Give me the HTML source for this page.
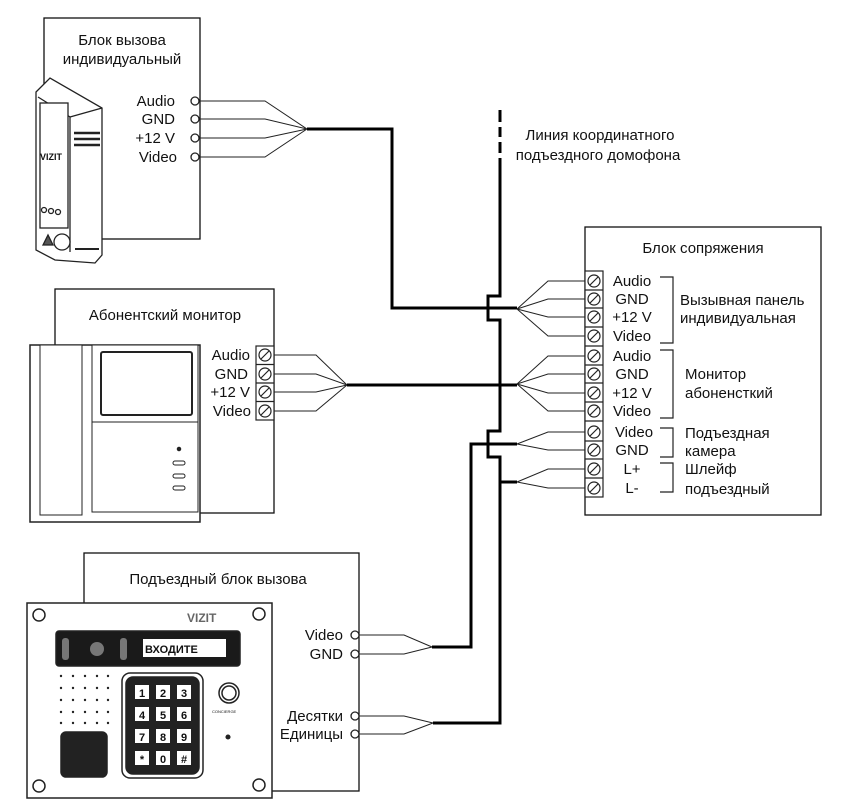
<!DOCTYPE html>
<html><head><meta charset="utf-8"><style>
html,body{margin:0;padding:0;background:#fff;}
svg{display:block;}
text{font-family:"Liberation Sans","DejaVu Sans",sans-serif;font-size:15px;fill:#111;}
</style></head><body>
<svg width="841" height="809" viewBox="0 0 841 809" xmlns="http://www.w3.org/2000/svg">
<g fill="none" stroke="#111" stroke-width="1.3">
<rect x="44" y="18" width="156" height="221" fill="#fff"/>
<rect x="55" y="289" width="219" height="224" fill="#fff"/>
<rect x="585" y="227" width="236" height="288" fill="#fff"/>
<rect x="84" y="553" width="275" height="238" fill="#fff"/>
</g>
<g stroke="#222" stroke-width="1.3" fill="#fff">
<path d="M36 92 L50 78 L102 108 L102 255 L95 263 L55 260 L36 250 Z"/>
<path d="M38 97 L70 117 L70 252" fill="none"/>
<path d="M70 117 L102 108" fill="none"/>
<rect x="40" y="103" width="28" height="125"/>
<path d="M74 133 h26 M74 139 h26 M74 145 h26" stroke-width="2.5"/>
<circle cx="44" cy="210" r="2.5"/><circle cx="51" cy="211" r="2.5"/><circle cx="58" cy="212" r="2.5"/>
<path d="M43 245 l5 -10 l5 10 z" fill="#555"/>
<circle cx="62" cy="242" r="8"/>
<path d="M75 249 h24" stroke-width="2"/>
</g>
<text x="40" y="160" style="font-size:9px;font-weight:bold">VIZIT</text>
<g stroke="#222" stroke-width="1.5" fill="#fff">
<rect x="30" y="345" width="170" height="177"/>
<rect x="40" y="345" width="42" height="170" stroke-width="1"/>
<rect x="92" y="345" width="106" height="167" stroke-width="1"/>
<rect x="101" y="352" width="91" height="63" rx="2" stroke-width="2"/>
<line x1="92" y1="422" x2="198" y2="422" stroke-width="1"/>
<circle cx="179" cy="449" r="1.5" fill="#222"/>
<rect x="173" y="461" width="12" height="4" rx="2" stroke-width="1"/>
<rect x="173" y="474" width="12" height="4" rx="2" stroke-width="1"/>
<rect x="173" y="486" width="12" height="4" rx="2" stroke-width="1"/>
</g>
<g stroke="#222" stroke-width="1.5" fill="#fff">
<rect x="27" y="603" width="245" height="195"/>
<circle cx="39" cy="615" r="6"/><circle cx="259" cy="614" r="6"/>
<circle cx="39" cy="786" r="6"/><circle cx="259" cy="785" r="6"/>
<rect x="56" y="631" width="184" height="35" rx="3" fill="#1a1a1a"/>
<rect x="143" y="639" width="83" height="18" fill="#fff" stroke="none"/>
<rect x="62" y="638" width="7" height="22" rx="3" fill="#777" stroke="none"/>
<rect x="120" y="638" width="7" height="22" rx="3" fill="#777" stroke="none"/>
<circle cx="97" cy="649" r="7" fill="#777" stroke="none"/>
<rect x="122" y="673" width="81" height="105" rx="8"/>
<rect x="126" y="677" width="73" height="97" rx="7" fill="#222"/>
<rect x="61" y="732" width="46" height="45" rx="5" fill="#222"/>
<circle cx="229" cy="693" r="10"/><circle cx="229" cy="693" r="7"/>
<circle cx="228" cy="737" r="1.8" fill="#222"/>
</g>
<g fill="#222">
<circle cx="61" cy="676" r="1.2"/><circle cx="73" cy="676" r="1.2"/><circle cx="85" cy="676" r="1.2"/><circle cx="97" cy="676" r="1.2"/><circle cx="108" cy="676" r="1.2"/>
<circle cx="61" cy="688" r="1.2"/><circle cx="73" cy="688" r="1.2"/><circle cx="85" cy="688" r="1.2"/><circle cx="97" cy="688" r="1.2"/><circle cx="108" cy="688" r="1.2"/>
<circle cx="61" cy="700" r="1.2"/><circle cx="73" cy="700" r="1.2"/><circle cx="85" cy="700" r="1.2"/><circle cx="97" cy="700" r="1.2"/><circle cx="108" cy="700" r="1.2"/>
<circle cx="61" cy="712" r="1.2"/><circle cx="73" cy="712" r="1.2"/><circle cx="85" cy="712" r="1.2"/><circle cx="97" cy="712" r="1.2"/><circle cx="108" cy="712" r="1.2"/>
<circle cx="61" cy="723" r="1.2"/><circle cx="73" cy="723" r="1.2"/><circle cx="85" cy="723" r="1.2"/><circle cx="97" cy="723" r="1.2"/><circle cx="108" cy="723" r="1.2"/>
</g>
<g fill="#fff">
<rect x="135" y="685" width="14" height="14"/><rect x="156" y="685" width="14" height="14"/><rect x="177" y="685" width="14" height="14"/>
<rect x="135" y="707" width="14" height="14"/><rect x="156" y="707" width="14" height="14"/><rect x="177" y="707" width="14" height="14"/>
<rect x="135" y="729" width="14" height="14"/><rect x="156" y="729" width="14" height="14"/><rect x="177" y="729" width="14" height="14"/>
<rect x="135" y="751" width="14" height="14"/><rect x="156" y="751" width="14" height="14"/><rect x="177" y="751" width="14" height="14"/>
</g>
<g style="font-size:11px;font-weight:bold" text-anchor="middle">
<text x="142" y="697" style="font-size:11px">1</text><text x="163" y="697" style="font-size:11px">2</text><text x="184" y="697" style="font-size:11px">3</text>
<text x="142" y="719" style="font-size:11px">4</text><text x="163" y="719" style="font-size:11px">5</text><text x="184" y="719" style="font-size:11px">6</text>
<text x="142" y="741" style="font-size:11px">7</text><text x="163" y="741" style="font-size:11px">8</text><text x="184" y="741" style="font-size:11px">9</text>
<text x="142" y="763" style="font-size:11px">*</text><text x="163" y="763" style="font-size:11px">0</text><text x="184" y="763" style="font-size:11px">#</text>
</g>
<text x="145" y="653" style="font-size:11px;font-weight:bold">ВХОДИТЕ</text>
<text x="187" y="622" style="font-size:12px;font-weight:bold;fill:#666">VIZIT</text>
<text x="212" y="713" style="font-size:4px">CONCIERGE</text>
<g fill="none" stroke="#222" stroke-width="1">
<path d="M200 101 H265 L307 129 M200 119 H265 L307 129 M200 138 H265 L307 129 M200 157 H265 L307 129"/>
<path d="M274 355 H316 L347 385 M274 374 H316 L347 385 M274 392 H316 L347 385 M274 411 H316 L347 385"/>
<path d="M517 309 L548 281 H585 M517 309 L548 299 H585 M517 309 L548 317 H585 M517 309 L548 336 H585"/>
<path d="M517 384 L548 356 H585 M517 384 L548 374 H585 M517 384 L548 393 H585 M517 384 L548 411 H585"/>
<path d="M517 444 L548 432 H585 M517 444 L548 450 H585"/>
<path d="M517 482 L548 469 H585 M517 482 L548 488 H585"/>
<path d="M359 635 H404 L432 647 M359 654 H404 L432 647"/>
<path d="M359 716 H404 L433 723 M359 734 H404 L433 723"/>
</g>
<g fill="none" stroke="#000" stroke-width="3">
<path d="M307 129 H392 V308 H517"/>
<path d="M347 385 H517"/>
<path d="M500 158 V296 H488 V320 H500 V431 H488 V457 H500 V723 H433"/>
<path d="M500 110 V122 M500 127 V137 M500 142 V153"/>
<path d="M432 647 H471 V444 H517"/>
<path d="M500 482 H517"/>
</g>
<g fill="#fff" stroke="#222" stroke-width="1.3">
<circle cx="195" cy="101" r="4"/><circle cx="195" cy="119" r="4"/><circle cx="195" cy="138" r="4"/><circle cx="195" cy="157" r="4"/>
<circle cx="355" cy="635" r="4"/><circle cx="355" cy="654" r="4"/><circle cx="355" cy="716" r="4"/><circle cx="355" cy="734" r="4"/>
</g>
<g fill="#fff" stroke="#222" stroke-width="1.2">
<rect x="256" y="346" width="18" height="74"/>
<rect x="585" y="271" width="18" height="226"/>
</g>
<g fill="none" stroke="#222" stroke-width="1.2">
<path d="M256 364.5 h18 M256 383 h18 M256 401.5 h18"/>
<circle cx="265" cy="355" r="6"/><circle cx="265" cy="374" r="6"/><circle cx="265" cy="392" r="6"/><circle cx="265" cy="411" r="6"/>
<path d="M261 359 l8 -8 M261 378 l8 -8 M261 396 l8 -8 M261 415 l8 -8"/>
<path d="M585 290 h18 M585 308 h18 M585 327 h18 M585 346 h18 M585 365 h18 M585 383 h18 M585 402 h18 M585 421 h18 M585 441 h18 M585 459 h18 M585 478 h18"/>
<circle cx="594" cy="281" r="6"/><path d="M590 285 l8 -8"/>
<circle cx="594" cy="299" r="6"/><path d="M590 303 l8 -8"/>
<circle cx="594" cy="317" r="6"/><path d="M590 321 l8 -8"/>
<circle cx="594" cy="336" r="6"/><path d="M590 340 l8 -8"/>
<circle cx="594" cy="356" r="6"/><path d="M590 360 l8 -8"/>
<circle cx="594" cy="374" r="6"/><path d="M590 378 l8 -8"/>
<circle cx="594" cy="393" r="6"/><path d="M590 397 l8 -8"/>
<circle cx="594" cy="411" r="6"/><path d="M590 415 l8 -8"/>
<circle cx="594" cy="432" r="6"/><path d="M590 436 l8 -8"/>
<circle cx="594" cy="450" r="6"/><path d="M590 454 l8 -8"/>
<circle cx="594" cy="469" r="6"/><path d="M590 473 l8 -8"/>
<circle cx="594" cy="488" r="6"/><path d="M590 492 l8 -8"/>
<path d="M660 277 H673 V343 H660"/>
<path d="M660 350 H673 V418 H660"/>
<path d="M660 428 H673 V457 H660"/>
<path d="M660 463 H673 V492 H660"/>
</g>
<g text-anchor="middle">
<text x="122" y="45">Блок вызова</text>
<text x="122" y="64">индивидуальный</text>
<text x="165" y="320">Абонентский монитор</text>
<text x="218" y="584">Подъездный блок вызова</text>
<text x="703" y="253">Блок сопряжения</text>
<text x="600" y="140">Линия координатного</text>
<text x="598" y="160">подъездного домофона</text>
<text x="632" y="286">Audio</text><text x="632" y="304">GND</text><text x="632" y="322">+12 V</text><text x="632" y="341">Video</text>
<text x="632" y="361">Audio</text><text x="632" y="379">GND</text><text x="632" y="398">+12 V</text><text x="632" y="416">Video</text>
<text x="634" y="437">Video</text><text x="632" y="455">GND</text><text x="632" y="474">L+</text><text x="632" y="493">L-</text>
</g>
<g text-anchor="end">
<text x="175" y="106">Audio</text><text x="175" y="124">GND</text><text x="175" y="143">+12 V</text><text x="177" y="162">Video</text>
<text x="250" y="360">Audio</text><text x="248" y="379">GND</text><text x="250" y="397">+12 V</text><text x="251" y="416">Video</text>
<text x="343" y="640">Video</text><text x="343" y="659">GND</text><text x="343" y="721">Десятки</text><text x="343" y="739">Единицы</text>
</g>
<text x="680" y="305">Вызывная панель</text>
<text x="680" y="323">индивидуальная</text>
<text x="685" y="379">Монитор</text>
<text x="685" y="398">абоненсткий</text>
<text x="685" y="438">Подъездная</text>
<text x="685" y="456">камера</text>
<text x="685" y="474">Шлейф</text>
<text x="685" y="494">подъездный</text>
</svg>
</body></html>
